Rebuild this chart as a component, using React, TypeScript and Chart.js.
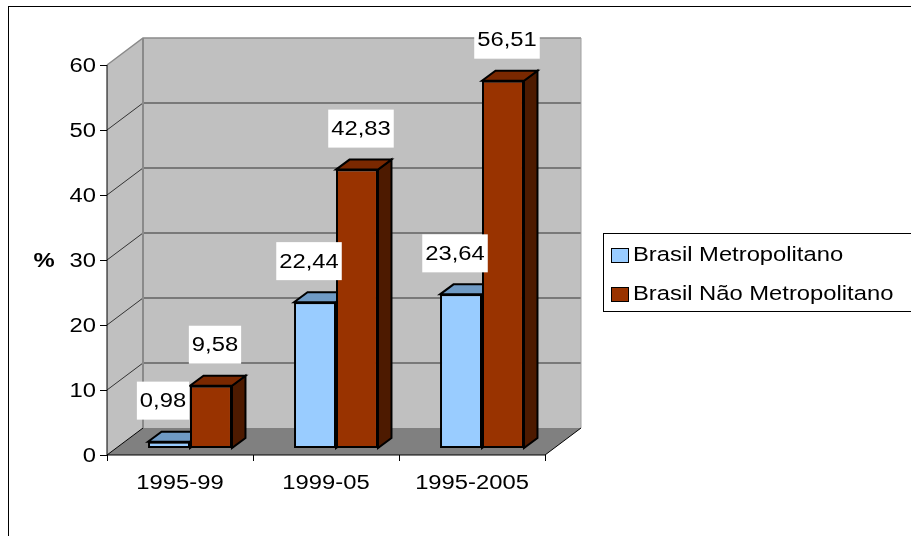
import React, { useEffect, useRef } from "react";
import { Chart, registerables } from "chart.js";

Chart.register(...registerables);

// ---------- data ----------
const categories = ["1995-99", "1999-05", "1995-2005"];
const metropolitano = [0.98, 22.44, 23.64];
const naoMetropolitano = [9.58, 42.83, 56.51];
const seriesNames = ["Brasil Metropolitano", "Brasil Não Metropolitano"];
const yTicks = [0, 10, 20, 30, 40, 50, 60];
const axisTitle = "%";

// ---------- style ----------
const FRONT = ["#99CCFF", "#993300"];
const TOP = ["#6F9AC4", "#7A2800"];
const SIDE = ["#4D6680", "#4D1A00"];
const LABEL_SHIFT = [-6, 4];
const WALL_DX = 36;
const WALL_DY = 27;
const BAR_OX = 10;
const BAR_OY = -7;
const BAR_DX = 13.5;
const BAR_DY = 10;
const STRETCH = 1.16;
const FONT = '20.5px "Liberation Sans", Arial, sans-serif';
const BOLD = 'bold 20.5px "Liberation Sans", Arial, sans-serif';

const fmt = (v: number) => v.toFixed(2).replace(".", ",");

function sText(
  ctx: CanvasRenderingContext2D,
  text: string,
  x: number,
  y: number,
  align: CanvasTextAlign,
  font = FONT
) {
  ctx.save();
  ctx.font = font;
  ctx.fillStyle = "#000";
  ctx.textBaseline = "middle";
  ctx.textAlign = align;
  ctx.translate(x, y);
  ctx.scale(STRETCH, 1);
  ctx.fillText(text, 0, 0);
  ctx.restore();
}

function poly(ctx: CanvasRenderingContext2D, pts: number[][], fill?: string, stroke?: string, lw = 1) {
  ctx.beginPath();
  ctx.moveTo(pts[0][0], pts[0][1]);
  for (let i = 1; i < pts.length; i++) ctx.lineTo(pts[i][0], pts[i][1]);
  ctx.closePath();
  if (fill) {
    ctx.fillStyle = fill;
    ctx.fill();
  }
  if (stroke) {
    ctx.strokeStyle = stroke;
    ctx.lineWidth = lw;
    ctx.lineJoin = "miter";
    ctx.stroke();
  }
}

function line(ctx: CanvasRenderingContext2D, pts: number[][], color: string, lw = 1) {
  ctx.beginPath();
  ctx.moveTo(pts[0][0], pts[0][1]);
  for (let i = 1; i < pts.length; i++) ctx.lineTo(pts[i][0], pts[i][1]);
  ctx.strokeStyle = color;
  ctx.lineWidth = lw;
  ctx.stroke();
}

const threeD = {
  id: "threeD",
  beforeDatasetsDraw(chart: any) {
    const ctx: CanvasRenderingContext2D = chart.ctx;
    const a = chart.chartArea;
    const xs = chart.scales.x;
    const ys = chart.scales.y;
    const L = a.left;
    const R = a.right;
    const B = ys.getPixelForValue(yTicks[0]);
    const T = ys.getPixelForValue(yTicks[yTicks.length - 1]);

    // outer frame
    ctx.save();
    ctx.strokeStyle = "#000";
    ctx.lineWidth = 1;
    ctx.strokeRect(8.5, 6.5, 1200, 1200);
    ctx.restore();

    // left wall
    poly(ctx, [[L, B], [L + WALL_DX, B - WALL_DY], [L + WALL_DX, T - WALL_DY], [L, T]], "#C0C0C0");
    // back wall
    poly(ctx, [[L + WALL_DX, B - WALL_DY], [R + WALL_DX, B - WALL_DY], [R + WALL_DX, T - WALL_DY], [L + WALL_DX, T - WALL_DY]], "#C0C0C0");
    // floor
    poly(ctx, [[L, B], [R, B], [R + WALL_DX, B - WALL_DY], [L + WALL_DX, B - WALL_DY]], "#808080");

    // gridlines
    yTicks.forEach((v, i) => {
      const py = ys.getPixelForValue(v);
      if (i === 0) {
        line(ctx, [[L, py], [L + WALL_DX, py - WALL_DY]], "#000", 1);
      } else if (i === yTicks.length - 1) {
        line(ctx, [[L, py], [L + WALL_DX, py - WALL_DY], [R + WALL_DX, py - WALL_DY]], "#8A8A8A", 1.5);
      } else {
        line(ctx, [[L, py], [L + WALL_DX, py - WALL_DY], [R + WALL_DX, py - WALL_DY]], "#333", 1);
      }
    });
    // wall edges
    line(ctx, [[L + WALL_DX, B - WALL_DY], [L + WALL_DX, T - WALL_DY]], "#8A8A8A", 2);
    line(ctx, [[R + WALL_DX, B - WALL_DY], [R + WALL_DX, T - WALL_DY]], "#A0A0A0", 1);
    line(ctx, [[R, B], [R + WALL_DX, B - WALL_DY]], "#000", 1);

    // axes
    line(ctx, [[L, T], [L, B]], "#000", 1);
    line(ctx, [[L, B], [R, B]], "#000", 1);
    yTicks.forEach((v) => {
      const py = Math.round(ys.getPixelForValue(v)) + 0.5;
      line(ctx, [[L - 7, py], [L, py]], "#000", 1);
      sText(ctx, String(v), L - 11, py + 1, "right");
    });
    const n = categories.length;
    const step = (R - L) / n;
    for (let i = 0; i <= n; i++) {
      const px = Math.round(L + step * i) + 0.5;
      line(ctx, [[px, B], [px, B + 6]], "#000", 1);
    }
    categories.forEach((c, i) => {
      sText(ctx, c, xs.getPixelForValue(i), B + 28, "center");
    });
    sText(ctx, axisTitle, 44, (T + B) / 2 + 1, "center", BOLD);

    // bar tops and sides (behind front faces)
    ctx.save();
    ctx.translate(BAR_OX, BAR_OY);
    chart.data.datasets.forEach((ds: any, di: number) => {
      const meta = chart.getDatasetMeta(di);
      meta.data.forEach((el: any) => {
        const p = el.getProps(["x", "y", "base", "width"], true);
        const x1 = p.x - p.width / 2;
        const x2 = p.x + p.width / 2;
        poly(ctx, [[x2, p.y], [x2 + BAR_DX, p.y - BAR_DY], [x2 + BAR_DX, p.base - BAR_DY], [x2, p.base]], SIDE[di], "#000", 2);
        poly(ctx, [[x1, p.y], [x2, p.y], [x2 + BAR_DX, p.y - BAR_DY], [x1 + BAR_DX, p.y - BAR_DY]], TOP[di], "#000", 2);
      });
    });
    // keep translation for Chart.js front faces; restored in afterDatasetsDraw
  },
  afterDatasetsDraw(chart: any) {
    const ctx: CanvasRenderingContext2D = chart.ctx;
    // labels (still in translated frame)
    chart.data.datasets.forEach((ds: any, di: number) => {
      const meta = chart.getDatasetMeta(di);
      meta.data.forEach((el: any, i: number) => {
        const p = el.getProps(["x", "y"], true);
        const txt = fmt(ds.data[i]);
        ctx.font = FONT;
        const w = ctx.measureText(txt).width * STRETCH + 6;
        const cx = p.x + LABEL_SHIFT[di];
        const cy = p.y - 41;
        ctx.fillStyle = "#FFF";
        ctx.fillRect(cx - w / 2, cy - 19, w, 38);
        sText(ctx, txt, cx, cy + 1, "center");
      });
    });
    ctx.restore();

    // legend
    const lx = 603;
    const ly = 233;
    ctx.save();
    ctx.fillStyle = "#FFF";
    ctx.fillRect(lx, ly, 400, 78);
    ctx.strokeStyle = "#000";
    ctx.lineWidth = 1;
    ctx.strokeRect(lx + 0.5, ly + 0.5, 400, 78);
    chart.data.datasets.forEach((ds: any, di: number) => {
      const cy = ly + 22 + di * 39;
      ctx.fillStyle = FRONT[di];
      ctx.fillRect(611, cy - 7, 17, 14);
      ctx.strokeStyle = "#000";
      ctx.lineWidth = 1;
      ctx.strokeRect(611.5, cy - 6.5, 17, 14);
      sText(ctx, ds.label, 633, cy, "left");
    });
    ctx.restore();
  },
};

export default function App() {
  const ref = useRef<HTMLCanvasElement>(null);
  useEffect(() => {
    if (!ref.current) return;
    const chart = new Chart(ref.current, {
      type: "bar",
      data: {
        labels: categories,
        datasets: [
          {
            label: seriesNames[0],
            data: metropolitano,
            backgroundColor: FRONT[0],
            borderColor: "#000",
            borderWidth: 2,
            borderSkipped: false,
            categoryPercentage: 0.575,
            barPercentage: 1,
            clip: false,
          } as any,
          {
            label: seriesNames[1],
            data: naoMetropolitano,
            backgroundColor: FRONT[1],
            borderColor: "#000",
            borderWidth: 2,
            borderSkipped: false,
            categoryPercentage: 0.575,
            barPercentage: 1,
            clip: false,
          } as any,
        ],
      },
      options: {
        animation: false,
        responsive: true,
        maintainAspectRatio: false,
        layout: { padding: { left: 107, right: 366, top: 65, bottom: 81 } },
        scales: {
          x: { display: false, offset: true },
          y: { display: false, min: 0, max: 60 },
        },
        plugins: {
          legend: { display: false },
          tooltip: { enabled: false },
        },
      },
      plugins: [threeD],
    });
    return () => chart.destroy();
  }, []);
  return (
    <div style={{ position: "fixed", left: 0, top: 0, width: 911, height: 536, background: "#fff" }}>
      <canvas ref={ref} />
    </div>
  );
}
